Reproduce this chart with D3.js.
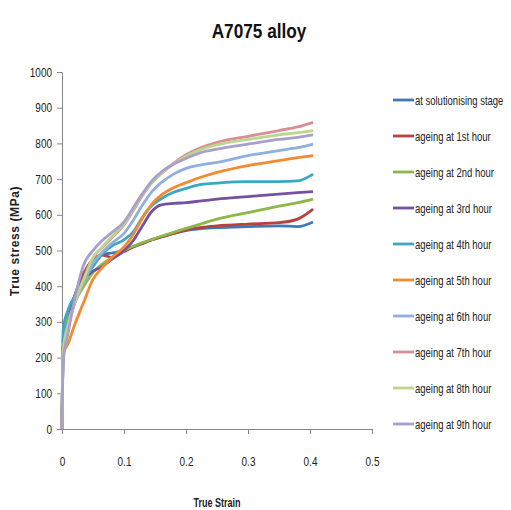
<!DOCTYPE html>
<html>
<head>
<meta charset="utf-8">
<script src="https://cdn.jsdelivr.net/npm/d3@7"></script>
<style>
  body { margin: 0; background: #fff; }
  text { font-family: "Liberation Sans", "DejaVu Sans", sans-serif; }
</style>
</head>
<body>
<div id="chart"></div>
<script>
// Strain points shared by all series
var strain = [0, 0.002, 0.01, 0.02, 0.035, 0.05, 0.065, 0.08, 0.1, 0.115, 0.13, 0.145, 0.16, 0.18, 0.2, 0.225, 0.25, 0.3, 0.35, 0.38, 0.405];

// Stress values (MPa)
var solutionising = [0, 230, 300, 370, 435, 475, 488, 493, 500, 510, 520, 530, 538, 548, 556, 561, 564, 567, 569, 567, 580];
var hour1 = [0, 230, 300, 370, 435, 475, 487, 481, 497, 510, 520, 530, 538, 548, 558, 565, 569, 574, 578, 588, 616];
var hour2 = [0, 260, 320, 355, 400, 438, 462, 480, 500, 512, 522, 531, 540, 551, 562, 575, 588, 606, 624, 634, 644];
var hour3 = [0, 230, 300, 370, 420, 442, 455, 475, 500, 528, 570, 610, 628, 632, 634, 639, 644, 651, 658, 662, 665];
var hour4 = [0, 280, 335, 370, 415, 455, 490, 512, 530, 552, 594, 626, 645, 663, 674, 685, 689, 693, 693, 695, 714];
var hour5 = [0, 210, 240, 290, 355, 419, 452, 480, 510, 545, 592, 630, 655, 676, 690, 706, 719, 738, 752, 760, 766];
var hour6 = [0, 220, 300, 350, 410, 465, 495, 520, 548, 585, 628, 665, 690, 714, 730, 740, 747, 766, 780, 788, 798];
var hour7 = [0, 220, 290, 350, 420, 480, 508, 535, 572, 612, 655, 690, 715, 744, 768, 789, 803, 820, 836, 846, 859];
var hour8 = [0, 220, 290, 350, 420, 480, 510, 538, 575, 615, 658, 690, 716, 742, 764, 784, 796, 811, 824, 830, 836];
var hour9 = [0, 190, 270, 360, 460, 500, 528, 550, 580, 620, 660, 695, 720, 742, 758, 775, 784, 798, 811, 817, 824];

var seriesNames = ["at solutionising stage", "ageing at 1st hour", "ageing at 2nd hour", "ageing at 3rd hour",
  "ageing at 4th hour", "ageing at 5th hour", "ageing at 6th hour", "ageing at 7th hour",
  "ageing at 8th hour", "ageing at 9th hour"];
var seriesValues = [solutionising, hour1, hour2, hour3, hour4, hour5, hour6, hour7, hour8, hour9];
var colors = ["#3f78bf", "#b8403d", "#8db848", "#74529f", "#3aa7c4", "#f5892f",
  "#8fb0de", "#d98e96", "#bad78c", "#a99fcc"];

var xTicks = [0, 0.1, 0.2, 0.3, 0.4, 0.5];
var yTicks = [0, 100, 200, 300, 400, 500, 600, 700, 800, 900, 1000];

var svgWidth = 511;
var svgHeight = 510;
var margin = { top: 72, left: 62 };
var chartWidth = 310;
var chartHeight = 357;

// squeeze text horizontally round its anchor, to imitate the narrow font of the original
function narrow(sel, k) {
  sel.each(function() {
    var t = d3.select(this);
    var x0 = +t.attr("x") || 0;
    t.attr("transform", `translate(${x0},0) scale(${k},1) translate(${-x0},0)`);
  });
}

var svg = d3.select("#chart")
  .append("svg")
  .attr("width", svgWidth)
  .attr("height", svgHeight);

var x = d3.scaleLinear().domain([0, 0.5]).range([0, chartWidth]);
var y = d3.scaleLinear().domain([0, 1000]).range([chartHeight, 0]);

var chartGroup = svg.append("g")
  .attr("transform", `translate(${margin.left}, ${margin.top})`);

// Title
svg.append("text")
  .attr("x", 259)
  .attr("y", 38)
  .attr("text-anchor", "middle")
  .style("font-size", "21px")
  .style("font-weight", "bold")
  .attr("fill", "#111")
  .text("A7075 alloy")
  .call(narrow, 0.82);

// Axes
var xAxis = chartGroup.append("g")
  .attr("transform", `translate(0, ${chartHeight})`)
  .call(d3.axisBottom(x).tickValues(xTicks).tickSize(5).tickFormat(d => d === 0 ? "0" : d3.format(".1f")(d)));

var yAxis = chartGroup.append("g")
  .call(d3.axisLeft(y).tickValues(yTicks).tickSize(5).tickFormat(d3.format("d")));

xAxis.selectAll(".tick text").attr("y", 28);
yAxis.selectAll(".tick text").attr("x", -10);

[xAxis, yAxis].forEach(function(ax) {
  ax.select(".domain").attr("stroke", "#868686");
  ax.selectAll(".tick line").attr("stroke", "#868686");
  ax.selectAll(".tick text")
    .attr("fill", "#222")
    .style("font-size", "12.5px")
    .call(narrow, 0.8);
});

// Axis titles
svg.append("text")
  .attr("x", margin.left + chartWidth / 2)
  .attr("y", 507)
  .attr("text-anchor", "middle")
  .style("font-size", "12px")
  .style("font-weight", "bold")
  .attr("fill", "#222")
  .text("True Strain")
  .call(narrow, 0.75);

svg.append("text")
  .attr("transform", "translate(19, 241) rotate(-90)")
  .attr("text-anchor", "middle")
  .style("font-size", "12px")
  .style("font-weight", "bold")
  .style("letter-spacing", "0.6px")
  .attr("fill", "#222")
  .text("True stress (MPa)");

// Lines
var line = d3.line()
  .x((d, i) => x(strain[i]))
  .y(d => y(d))
  .curve(d3.curveMonotoneX);

chartGroup.selectAll(".series")
  .data(seriesValues)
  .enter()
  .append("path")
  .attr("class", "series")
  .attr("d", d => line(d))
  .attr("fill", "none")
  .attr("stroke", (d, i) => colors[i])
  .attr("stroke-width", 2.8)
  .attr("stroke-linejoin", "round");

// Legend
var legend = svg.append("g").attr("transform", "translate(393, 100)");
var rows = legend.selectAll(".row")
  .data(seriesNames)
  .enter()
  .append("g")
  .attr("transform", (d, i) => `translate(0, ${i * 36})`);

rows.append("line")
  .attr("x1", 0).attr("x2", 21)
  .attr("stroke", (d, i) => colors[i])
  .attr("stroke-width", 2.8);

rows.append("text")
  .attr("x", 22)
  .attr("y", 4.5)
  .style("font-size", "12px")
  .attr("fill", "#222")
  .text(d => d)
  .call(narrow, 0.79);
</script>
</body>
</html>
